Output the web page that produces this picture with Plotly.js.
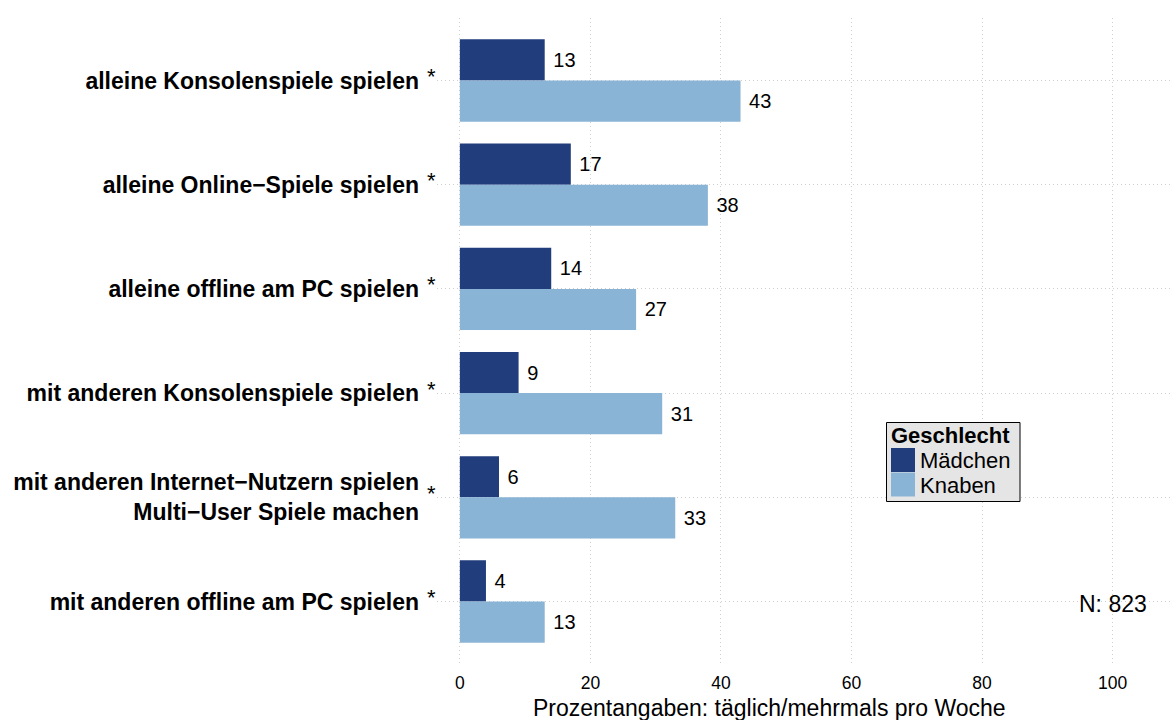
<!DOCTYPE html>
<html>
<head>
<meta charset="utf-8">
<script src="https://cdn.plot.ly/plotly-3.0.1.min.js"></script>
<style>html,body{margin:0;padding:0;background:#fff;}#chart{width:1172px;height:720px;}</style>
</head>
<body>
<div id="chart"></div>
<script>
const categories = [
  "alleine Konsolenspiele spielen",
  "alleine Online−Spiele spielen",
  "alleine offline am PC spielen",
  "mit anderen Konsolenspiele spielen",
  "mit anderen Internet−Nutzern spielen<br>Multi−User Spiele machen",
  "mit anderen offline am PC spielen"
];
const maedchen = [13, 17, 14, 9, 6, 4];
const knaben = [43, 38, 27, 31, 33, 13];
const seriesNames = ["Mädchen", "Knaben"];
const seriesColors = ["#223D7B", "#8AB4D6"];
const legendTitle = "Geschlecht";
const xTicks = [0, 20, 40, 60, 80, 100];
const significance = ["*", "*", "*", "*", "*", "*"];
const nLabel = "N: 823";
const xTitle = "Prozentangaben: täglich/mehrmals pro Woche";

const font = "Liberation Sans, Arial, Helvetica, sans-serif";

// plot area in pixels (for placing the legend box and free texts)
const W = 1172, H = 720;
const M = {l: 437, r: 0, t: 18, b: 56};
const pw = W - M.l - M.r, ph = H - M.t - M.b;
const px = x => (x - M.l) / pw;
const py = y => (H - M.b - y) / ph;

const traces = [maedchen, knaben].map((vals, i) => ({
  type: "bar",
  orientation: "h",
  name: seriesNames[i],
  y: categories,
  x: vals,
  text: vals.map(v => "\u00A0" + v),
  textposition: "outside",
  cliponaxis: false,
  textfont: {family: font, size: 20, color: "#000"},
  marker: {color: seriesColors[i], line: {width: 0}},
  hoverinfo: "x+name",
  showlegend: false
}));

const annotations = categories.map((c, i) => ({
  xref: "paper", yref: "y",
  x: px(431), y: c,
  text: significance[i],
  showarrow: false,
  xanchor: "center", yanchor: "middle",
  font: {family: font, size: 22, color: "#000"},
  yshift: 4
}));
annotations.push({
  xref: "x", yref: "y",
  x: 100, y: categories[5],
  text: nLabel,
  showarrow: false,
  xanchor: "center", yanchor: "middle",
  yshift: -3,
  font: {family: font, size: 23, color: "#000"}
});
annotations.push({
  xref: "paper", yref: "paper",
  x: px(769), y: py(708),
  text: xTitle,
  showarrow: false,
  xanchor: "center", yanchor: "middle",
  font: {family: font, size: 23, color: "#000"}
});

// legend (box, title, swatches, labels)
const shapes = [{
  type: "rect", xref: "paper", yref: "paper",
  x0: px(886.5), x1: px(1020), y0: py(501.5), y1: py(422.5),
  fillcolor: "#E5E5E5", line: {color: "#000", width: 1}, layer: "above"
}];
annotations.push({
  xref: "paper", yref: "paper", x: px(889), y: py(436),
  text: "<b>" + legendTitle + "</b>", showarrow: false,
  xanchor: "left", yanchor: "middle",
  font: {family: font, size: 22, color: "#000"}
});
seriesNames.forEach((n, i) => {
  const top = 448 + i * 24.5;
  shapes.push({
    type: "rect", xref: "paper", yref: "paper",
    x0: px(891), x1: px(915), y0: py(top + 24), y1: py(top),
    fillcolor: seriesColors[i], line: {width: 0}, layer: "above"
  });
  annotations.push({
    xref: "paper", yref: "paper", x: px(918), y: py(top + 12.5),
    text: n, showarrow: false,
    xanchor: "left", yanchor: "middle",
    font: {family: font, size: 22, color: "#000"}
  });
});

const layout = {
  width: W, height: H,
  margin: M,
  paper_bgcolor: "#fff", plot_bgcolor: "#fff",
  barmode: "group",
  bargap: 0.21,
  bargroupgap: 0,
  font: {family: font, color: "#000"},
  xaxis: {
    range: [-3.5, 109.1],
    tickvals: xTicks,
    ticktext: xTicks.map(String),
    tickfont: {family: font, size: 17.5, color: "#000"},
    showgrid: true, gridcolor: "#CFCFCF", griddash: "1px,3px", gridwidth: 1,
    zeroline: false, showline: false, ticks: "",
    ticklabelstandoff: 6
  },
  yaxis: {
    autorange: false,
    range: [5.6, -0.6],
    type: "category",
    tickfont: {family: font, size: 23, color: "#000", weight: "bold"},
    showgrid: true, gridcolor: "#CFCFCF", griddash: "1px,3px", gridwidth: 1,
    zeroline: false, showline: false, ticks: "",
    ticklabelstandoff: 17
  },
  shapes: shapes,
  annotations: annotations,
  showlegend: false
};

Plotly.newPlot("chart", traces, layout, {displayModeBar: false, staticPlot: true});
</script>
</body>
</html>
